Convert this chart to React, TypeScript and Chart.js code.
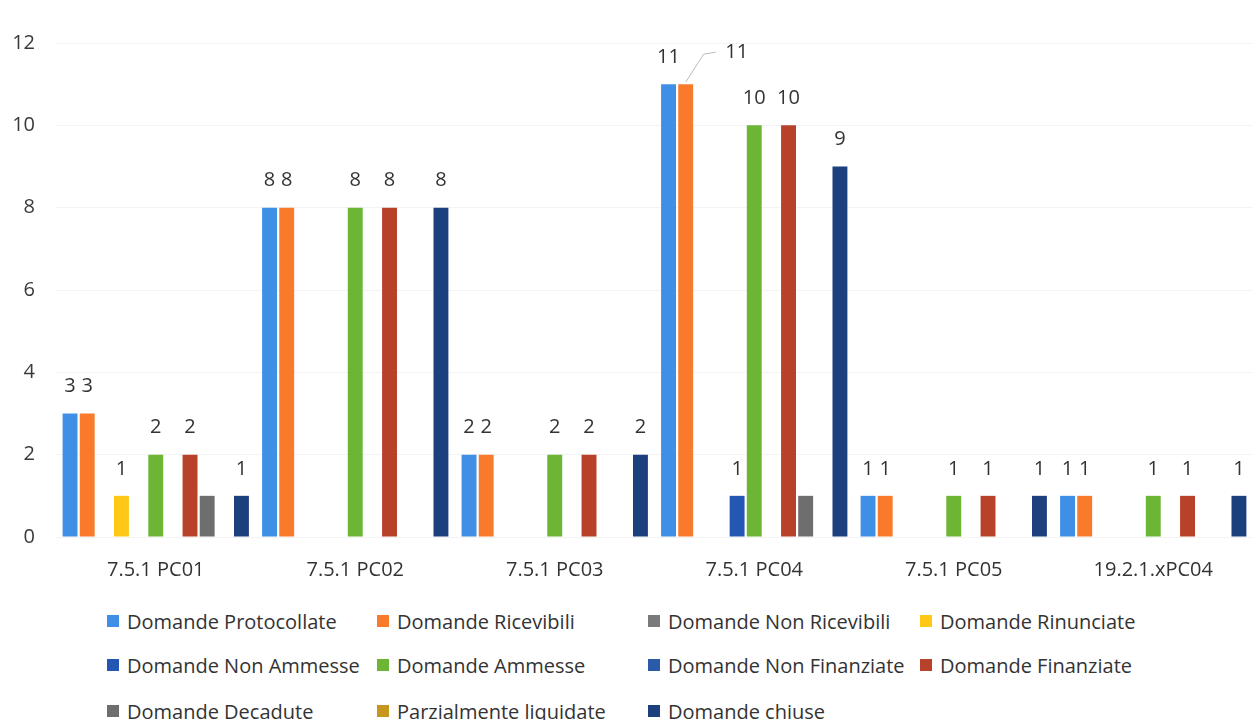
import React, { useEffect, useRef } from "react";
import { Chart, registerables } from "chart.js";

Chart.register(...registerables);

const categories = ["7.5.1 PC01", "7.5.1 PC02", "7.5.1 PC03", "7.5.1 PC04", "7.5.1 PC05", "19.2.1.xPC04"];

const seriesNames = [
  "Domande Protocollate",
  "Domande Ricevibili",
  "Domande Non Ricevibili",
  "Domande Rinunciate",
  "Domande Non Ammesse",
  "Domande Ammesse",
  "Domande Non Finanziate",
  "Domande Finanziate",
  "Domande Decadute",
  "Parzialmente liquidate",
  "Domande chiuse",
];

const protocollate = [3, 8, 2, 11, 1, 1];
const ricevibili = [3, 8, 2, 11, 1, 1];
const nonRicevibili = [0, 0, 0, 0, 0, 0];
const rinunciate = [1, 0, 0, 0, 0, 0];
const nonAmmesse = [0, 0, 0, 1, 0, 0];
const ammesse = [2, 8, 2, 10, 1, 1];
const nonFinanziate = [0, 0, 0, 0, 0, 0];
const finanziate = [2, 8, 2, 10, 1, 1];
const decadute = [1, 0, 0, 1, 0, 0];
const parzialmente = [0, 0, 0, 0, 0, 0];
const chiuse = [1, 8, 2, 9, 1, 1];

const seriesValues = [
  protocollate, ricevibili, nonRicevibili, rinunciate, nonAmmesse, ammesse,
  nonFinanziate, finanziate, decadute, parzialmente, chiuse,
];

const seriesColors = [
  "#3f8fe6", "#fa7a2c", "#7a7a7a", "#ffc816", "#2456b4", "#6cb535",
  "#2a5aa8", "#b8412a", "#6e6e6e", "#c8961e", "#1c3f7e",
];

const yTicks = [0, 2, 4, 6, 8, 10, 12];

const FONT = "'Open Sans', sans-serif";

// series whose value labels are not shown in the reference
const hiddenLabelSeries = [8];

const labelPlugin = {
  id: "valueLabels",
  afterDatasetsDraw(chart: any) {
    const ctx = chart.ctx;
    ctx.save();
    ctx.font = `20px ${FONT}`;
    ctx.fillStyle = "#333333";
    ctx.textAlign = "center";
    ctx.textBaseline = "middle";
    chart.data.datasets.forEach((ds: any, di: number) => {
      if (hiddenLabelSeries.includes(di)) return;
      const meta = chart.getDatasetMeta(di);
      meta.data.forEach((bar: any, i: number) => {
        const v = ds.data[i];
        if (!v) return;
        // the orange 11 in PC04 is moved aside with a leader line
        if (di === 1 && i === 3) {
          const lx = bar.x + 51;
          const ly = bar.y - 32;
          ctx.strokeStyle = "#bbbbbb";
          ctx.lineWidth = 1;
          ctx.beginPath();
          ctx.moveTo(bar.x, bar.y - 2);
          ctx.lineTo(bar.x + 18, ly + 2);
          ctx.lineTo(bar.x + 30, ly);
          ctx.stroke();
          ctx.fillText(String(v), lx, ly);
          return;
        }
        ctx.fillText(String(v), bar.x, bar.y - 27);
      });
    });
    ctx.restore();
  },
};

export default function App() {
  const ref = useRef<HTMLCanvasElement>(null);

  useEffect(() => {
    const chart = new Chart(ref.current as HTMLCanvasElement, {
      type: "bar",
      data: {
        labels: categories,
        datasets: seriesNames.map((name, i) => ({
          label: name,
          data: seriesValues[i],
          backgroundColor: seriesColors[i],
          borderWidth: 0,
          categoryPercentage: 0.945,
          barPercentage: 0.87,
        })),
      },
      options: {
        responsive: false,
        animation: false,
        layout: { padding: { top: 43, left: 0, right: 0, bottom: 0 } },
        plugins: {
          legend: { display: false },
          tooltip: { enabled: false },
        },
        scales: {
          x: {
            grid: { display: false, drawTicks: false },
            border: { display: false },
            ticks: {
              padding: 21,
              color: "#333333",
              font: { family: FONT, size: 20 },
            },
            afterFit: (s: any) => {
              s.height = 63;
            },
          },
          y: {
            min: 0,
            max: 12,
            afterBuildTicks: (s: any) => {
              s.ticks = yTicks.map((v) => ({ value: v }));
            },
            grid: { color: "#f3f3f3", drawTicks: false },
            border: { display: false },
            ticks: {
              padding: 21,
              color: "#3a3a3a",
              font: { family: FONT, size: 20 },
            },
            afterFit: (s: any) => {
              s.width = 56;
            },
          },
        },
      },
      plugins: [labelPlugin],
    });
    return () => chart.destroy();
  }, []);

  const legendTextCols = [127, 397, 668, 940];
  const legendRows = [621, 665, 711];

  return (
    <div
      style={{
        position: "fixed",
        left: 0,
        top: 0,
        width: 1253,
        height: 720,
        background: "#ffffff",
        overflow: "hidden",
        fontFamily: FONT,
      }}
    >
      <canvas ref={ref} width={1253} height={600} style={{ position: "absolute", left: 0, top: 0 }} />
      {seriesNames.map((name, i) => {
        const col = i % 4;
        const row = Math.floor(i / 4);
        return (
          <div
            key={name}
            style={{
              position: "absolute",
              left: legendTextCols[col] - 20,
              top: legendRows[row] - 14,
              height: 28,
              display: "flex",
              alignItems: "center",
              whiteSpace: "nowrap",
              fontSize: 20,
              color: "#333333",
            }}
          >
            <span
              style={{
                display: "inline-block",
                width: 12,
                height: 12,
                background: seriesColors[i],
                marginRight: 8,
              }}
            />
            <span>{name}</span>
          </div>
        );
      })}
    </div>
  );
}
